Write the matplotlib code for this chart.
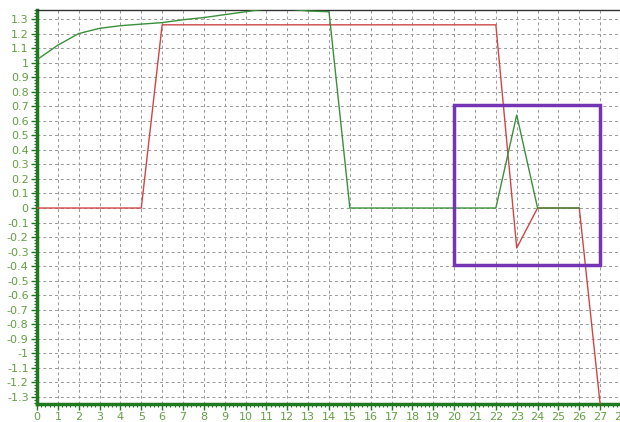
import numpy as np
import matplotlib.pyplot as plt
from matplotlib.ticker import MultipleLocator, FuncFormatter
from matplotlib.patches import Rectangle

# datos
x_verde = [0, 1, 2, 3, 4, 5, 6, 7, 8, 9, 10, 11, 12, 13, 14, 15, 16, 17, 18, 19, 20, 21, 22, 23, 24, 25, 26]
y_verde = [1.02, 1.12, 1.20, 1.236, 1.254, 1.265, 1.275, 1.295, 1.31, 1.33, 1.35, 1.37, 1.37, 1.355, 1.35,
           0, 0, 0, 0, 0, 0, 0, 0, 0.64, 0, 0, 0]
x_rojo = [0, 1, 2, 3, 4, 5, 6, 7, 8, 9, 10, 11, 12, 13, 14, 15, 16, 17, 18, 19, 20, 21, 22, 23, 24, 25, 26, 27]
y_rojo = [0, 0, 0, 0, 0, 0, 1.26, 1.26, 1.26, 1.26, 1.26, 1.26, 1.26, 1.26, 1.26, 1.26, 1.26, 1.26, 1.26,
          1.26, 1.26, 1.26, 1.26, -0.275, 0, 0, 0, -1.35]
caja_x = [20, 27]
caja_y = [-0.39, 0.71]

verde_txt = "#62a043"
verde_eje = "#1f7a1f"

fig = plt.figure(figsize=(6.2, 4.22), dpi=100)
ax = fig.add_axes([37/620, 18/422, 584/620, 394/422])

ax.plot(x_rojo, y_rojo, color="#d04545", lw=1.0, zorder=3)
ax.plot(x_verde, y_verde, color="#3a903a", lw=1.0, zorder=4)

ax.add_patch(Rectangle((caja_x[0], caja_y[0]), caja_x[1]-caja_x[0], caja_y[1]-caja_y[0],
                       fill=False, edgecolor="#7434b4", lw=2.5, zorder=5))

ax.set_xlim(0, 28)
ax.set_ylim(-1.348, 1.362)

ax.xaxis.set_major_locator(MultipleLocator(1))
ax.xaxis.set_minor_locator(MultipleLocator(0.2))
ax.set_yticks(np.round(np.arange(-1.3, 1.31, 0.1), 1))
ax.yaxis.set_minor_locator(MultipleLocator(0.02))

def fmt(v, pos):
    s = "%.1f" % v
    if s.endswith(".0"):
        s = s[:-2]
    if s == "-0":
        s = "0"
    return s
ax.yaxis.set_major_formatter(FuncFormatter(fmt))

ax.grid(True, which="major", color="#999999", ls=(0, (3, 3)), lw=0.7, zorder=1)

for s in ["left", "bottom"]:
    ax.spines[s].set_color(verde_eje)
    ax.spines[s].set_linewidth(2.5)
ax.spines["top"].set_color("#333333")
ax.spines["top"].set_linewidth(1)
ax.spines["right"].set_visible(False)

ax.tick_params(which="major", colors=verde_eje, length=4, width=1, labelsize=8, labelcolor=verde_txt, pad=2)
ax.tick_params(which="minor", colors=verde_eje, length=2, width=0.8)

plt.savefig("out.png", dpi=100)
